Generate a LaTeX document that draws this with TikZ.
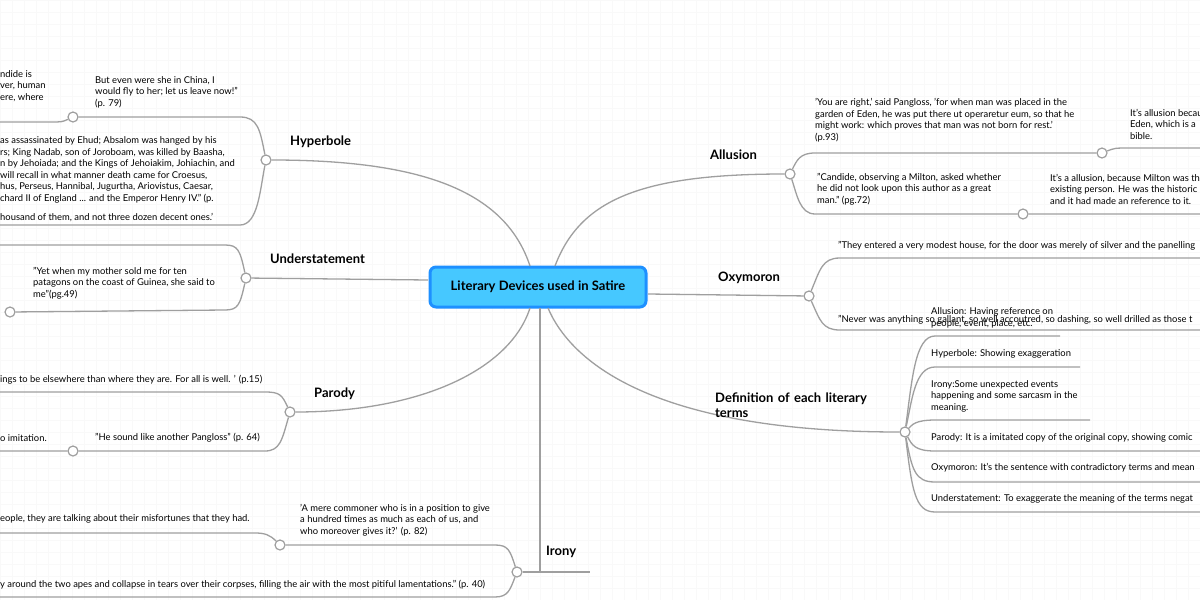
\documentclass[tikz,border=0pt]{standalone}
\usepackage{fontspec}
\setmainfont{Lato}
\begin{document}
\begin{tikzpicture}[x=1pt,y=-1pt,
 ln/.style={draw=gray!75,line width=1.3pt},
 dot/.style={circle,draw=gray!75,line width=1.2pt,fill=white,inner sep=0pt,minimum size=10pt},
 tx/.style={font=\fontsize{9.4}{11.5}\selectfont,align=left,anchor=west,inner sep=0pt},
 mt/.style={font=\fontsize{13}{15}\selectfont\bfseries,align=left,anchor=west,inner sep=0pt}]
\useasboundingbox (0,0) rectangle (1200,600);
\fill[white] (0,0) rectangle (1200,600);
\draw[gray!5,step=12pt] (0,0) grid (1200,600);
% center
\node[draw={rgb,255:red,30;green,144;blue,255},line width=3pt,fill={rgb,255:red,70;green,200;blue,255},rounded corners=6pt,minimum width=216pt,minimum height=40pt,font=\fontsize{13}{15}\selectfont\bfseries] (C) at (538,287) {Literary Devices used in Satire};
% main circles
\node[dot] (H) at (266,160) {};
\node[dot] (U) at (246,278) {};
\node[dot] (P) at (290,412) {};
\node[dot] (I) at (517,572) {};
\node[dot] (A) at (790,174) {};
\node[dot] (O) at (809,296) {};
\node[dot] (D) at (905,432) {};
\coordinate (ie) at (590,572);
% main connectors
\draw[ln] (H) .. controls (420,160) and (505,190) .. (530,266);
\draw[ln] (U) -- (428,280);
\draw[ln] (P) .. controls (420,412) and (510,370) .. (530,308);
\draw[ln] (540,308) -- (540,572);
\draw[ln] (I) -- (ie);
\draw[ln] (A) .. controls (640,174) and (580,200) .. (555,266);
\draw[ln] (O) -- (648,294);
\draw[ln] (D) .. controls (650,432) and (570,360) .. (548,308);
% labels
\node[mt] (Hl) at (290,142) {Hyperbole};
\node[mt] (Ul) at (270,259) {Understatement};
\node[mt] (Pl) at (314,394) {Parody};
\node[mt] (Il) at (546,552) {Irony};
\node[mt] (Al) at (710,155) {Allusion};
\node[mt] (Ol) at (718,278) {Oxymoron};
\node[mt,text width=180pt] (Dl) at (715,405) {Definition of each literary\\terms};
% Hyperbole children
\node[dot] (h1) at (73,117) {};
\draw[ln] (H) .. controls (260,130) and (258,117) .. (240,117) -- (h1);
\draw[ln] (h1) .. controls (62,122) .. (50,122) -- (0,122);
\draw[ln] (H) .. controls (260,190) and (258,225) .. (240,225) -- (0,225);
\node[tx] (h1t) at (95,92) {But even were she in China, I\\would fly to her; let us leave now!"\\(p. 79)};
\node[tx] (h0t) at (0,86) {ndide is\\ver, human\\ere, where};
\node[tx] (h2t) at (0,170) {as assassinated by Ehud; Absalom was hanged by his\\rs; King Nadab, son of Joroboam, was killed by Baasha,\\n by Jehoiada; and the Kings of Jehoiakim, Johiachin, and\\will recall in what manner death came for Croesus,\\hus, Perseus, Hannibal, Jugurtha, Ariovistus, Caesar,\\chard II of England ... and the Emperor Henry IV." (p.};
\node[tx] (h3t) at (0,218) {housand of them, and not three dozen decent ones.'};
% Understatement children
\node[dot] (u1) at (10,312) {};
\draw[ln] (U) .. controls (240,250) and (238,245) .. (225,245) -- (0,245);
\draw[ln] (U) .. controls (240,305) and (238,310) .. (225,310) -- (u1);
\node[tx] (u1t) at (33,283) {"Yet when my mother sold me for ten\\patagons on the coast of Guinea, she said to\\me"(pg.49)};
% Parody children
\node[dot] (p1) at (73,451) {};
\draw[ln] (P) .. controls (282,395) and (280,392) .. (265,392) -- (0,392);
\draw[ln] (P) .. controls (282,440) and (280,451) .. (265,451) -- (p1) -- (0,451);
\node[tx] (p1t) at (0,380) {ings to be elsewhere than where they are. For all is well. ' (p.15)};
\node[tx] (p2t) at (95,438) {"He sound like another Pangloss" (p. 64)};
\node[tx] (p3t) at (0,438) {o imitation.};
% Irony children
\node[dot] (i1) at (280,545) {};
\draw[ln] (I) .. controls (510,550) and (508,545) .. (495,545) -- (i1);
\draw[ln] (i1) .. controls (270,535) and (265,533) .. (255,533) -- (0,533);
\draw[ln] (I) .. controls (510,590) and (508,597) .. (495,597) -- (0,597);
\node[tx] (i1t) at (300,520) {'A mere commoner who is in a position to give\\a hundred times as much as each of us, and\\who moreover gives it?' (p. 82)};
\node[tx] (i2t) at (0,519) {eople, they are talking about their misfortunes that they had.};
\node[tx] (i3t) at (0,585) {y around the two apes and collapse in tears over their corpses, filling the air with the most pitiful lamentations." (p. 40)};
% Allusion children
\node[dot] (a1) at (1102,153) {};
\node[dot] (a2) at (1023,214) {};
\draw[ln] (A) .. controls (797,160) and (800,153) .. (815,153) -- (a1) .. controls (1115,148) .. (1130,148) -- (1200,148);
\draw[ln] (A) .. controls (797,195) and (800,214) .. (815,214) -- (a2) -- (1200,214);
\node[tx] (a1t) at (815,120) {'You are right,' said Pangloss, 'for when man was placed in the\\garden of Eden, he was put there ut operaretur eum, so that he\\might work: which proves that man was not born for rest.'\\(p.93)};
\node[tx] (a1c) at (1130,124) {It's allusion becau\\Eden, which is a\\bible.};
\node[tx] (a2t) at (817,189) {"Candide, observing a Milton, asked whether\\he did not look upon this author as a great\\man." (pg.72)};
\node[tx] (a2c) at (1050,189) {It's a allusion, because Milton was th\\existing person. He was the historic\\and it had made an reference to it.};
% Oxymoron children
\draw[ln] (O) .. controls (820,270) and (822,258) .. (840,258) -- (1200,258);
\draw[ln] (O) .. controls (820,320) and (822,330) .. (840,330) -- (1200,330);
\node[tx] (o1t) at (838,246) {"They entered a very modest house, for the door was merely of silver and the panelling};
\node[tx] (o2t) at (838,320) {"Never was anything so gallant, so well accoutred, so dashing, so well drilled as those t};
% Definition children
\draw[ln] (D) .. controls (912,380) and (915,336) .. (935,336) -- (1060,336);
\draw[ln] (D) .. controls (912,400) and (915,367) .. (935,367) -- (1080,367);
\draw[ln] (D) .. controls (912,425) and (915,420) .. (935,420) -- (1090,420);
\draw[ln] (D) .. controls (912,445) and (915,451) .. (935,451) -- (1200,451);
\draw[ln] (D) .. controls (912,470) and (915,482) .. (935,482) -- (1200,482);
\draw[ln] (D) .. controls (912,490) and (915,512) .. (935,512) -- (1200,512);
\node[tx] (d1) at (931,318) {Allusion: Having reference on\\people, event, place, etc.};
\node[tx] (d2) at (931,354) {Hyperbole: Showing exaggeration};
\node[tx] (d3) at (931,396) {Irony:Some unexpected events\\happening and some sarcasm in the\\meaning.};
\node[tx] (d4) at (931,438) {Parody: It is a imitated copy of the original copy, showing comic};
\node[tx] (d5) at (931,468) {Oxymoron: It's the sentence with contradictory terms and mean};
\node[tx] (d6) at (931,499) {Understatement: To exaggerate the meaning of the terms negat};
\end{tikzpicture}
\end{document}
